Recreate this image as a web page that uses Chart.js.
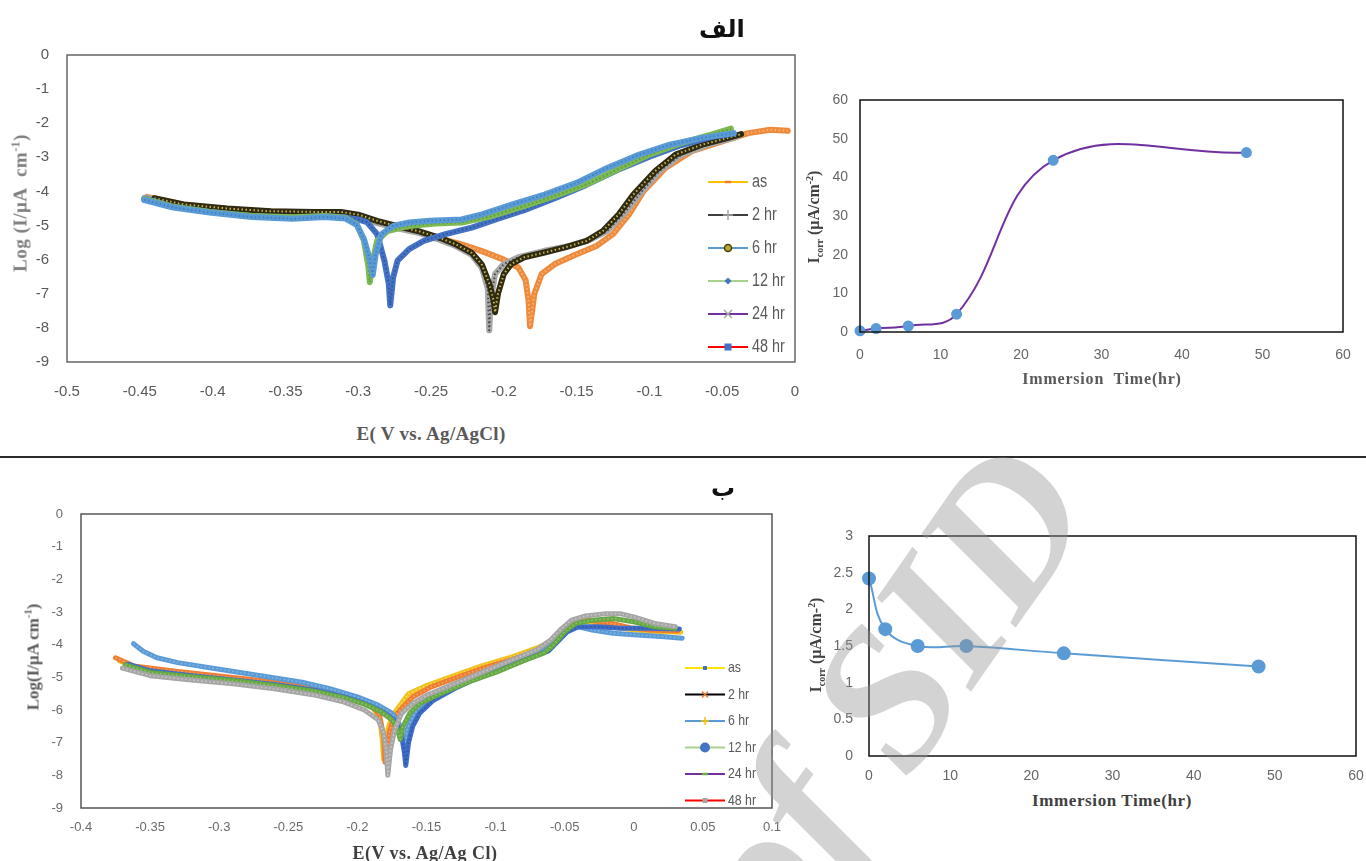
<!DOCTYPE html>
<html>
<head>
<meta charset="utf-8">
<script src="https://cdn.jsdelivr.net/npm/chart.js@4.4.1/dist/chart.umd.min.js"></script>
<style>
  html, body { margin: 0; padding: 0; background: #fff; }
  #page { position: relative; width: 1366px; height: 861px; overflow: hidden; }
  canvas { position: absolute; }
  .lbl { position: absolute; white-space: nowrap; font-family: 'Liberation Serif', 'DejaVu Serif', serif;
         font-weight: bold; transform: translate(-50%, -50%); line-height: 1; }
  .vt { transform: translate(-50%, -50%) rotate(-90deg); }
  .fa { position: absolute; font-family: 'DejaVu Sans', sans-serif; font-weight: bold; font-size: 24px; color: #111; line-height: 1; }
  sub, sup { font-size: 62%; line-height: 0; }
  #rule { position: absolute; left: 0; top: 456px; width: 1366px; height: 2px; background: #2b2b2b; }
  #mark { position: absolute; right: 240px; bottom: 334px; transform-origin: 100% 100%; transform: rotate(-55deg);
          font-family: 'Liberation Serif', serif; font-weight: bold; font-style: italic; font-size: 200px;
          line-height: 1; white-space: nowrap; color: rgba(150,150,150,0.42); pointer-events: none; }
</style>
</head>
<body>
<div id="page">
  <canvas id="c1" width="815" height="375" style="left:0;top:40px"></canvas>
  <canvas id="c2" width="571" height="310" style="left:795px;top:85px"></canvas>
  <canvas id="c3" width="790" height="345" style="left:0;top:500px"></canvas>
  <canvas id="c4" width="566" height="270" style="left:800px;top:520px"></canvas>

  <div class="fa" style="left:699px;top:17px">الف</div>
  <div class="fa" style="left:711px;top:476px">ب</div>
  <div id="rule"></div>

  <div class="lbl vt" style="left:20px;top:203px;font-size:19px;letter-spacing:0.5px;color:#7f7f7f">Log (I/μA&nbsp; cm<sup>-1</sup>)</div>
  <div class="lbl" style="left:431px;top:433px;font-size:19px;letter-spacing:0.3px;color:#595959">E( V vs. Ag/AgCl)</div>
  <div class="lbl vt" style="left:814px;top:217px;font-size:16px;color:#404040">I<sub>corr</sub> (μA/cm<sup>-2</sup>)</div>
  <div class="lbl" style="left:1102px;top:379px;font-size:16px;letter-spacing:0.8px;color:#595959">Immersion&nbsp; Time(hr)</div>

  <div class="lbl vt" style="left:33px;top:657px;font-size:17px;color:#595959">Log(I/μA cm<sup>-1</sup>)</div>
  <div class="lbl" style="left:425px;top:853px;font-size:18px;letter-spacing:0.5px;color:#404040">E(V vs. Ag/Ag Cl)</div>
  <div class="lbl vt" style="left:816px;top:645px;font-size:16px;color:#404040">I<sub>corr</sub> (μA/cm-<sup>2</sup>)</div>
  <div class="lbl" style="left:1112px;top:800px;font-size:17px;letter-spacing:0.6px;color:#404040">Immersion Time(hr)</div>

  <div id="mark">Archive of SID</div>
</div>

<script>
// ---- data ----
var seriesNames = ['as', '2 hr', '6 hr', '12 hr', '24 hr', '48 hr'];

// (a) polarization curves, [E (V), log I]
var topAs = [[-0.445,-4.16],[-0.42,-4.38],[-0.39,-4.52],[-0.36,-4.59],[-0.33,-4.62],[-0.312,-4.62],[-0.301,-4.72],
  [-0.287,-4.91],[-0.273,-5.06],[-0.258,-5.2],[-0.244,-5.38],[-0.229,-5.55],[-0.215,-5.75],[-0.2,-6.0],[-0.19,-6.23],
  [-0.185,-6.6],[-0.183,-7.2],[-0.182,-7.95],[-0.179,-7.0],[-0.174,-6.42],[-0.165,-6.13],[-0.15,-5.84],[-0.136,-5.59],
  [-0.125,-5.25],[-0.114,-4.67],[-0.104,-3.99],[-0.089,-3.31],[-0.071,-2.82],[-0.05,-2.53],[-0.032,-2.29],
  [-0.017,-2.19],[-0.005,-2.22]];
var top2hr = [[-0.445,-4.18],[-0.42,-4.4],[-0.39,-4.53],[-0.36,-4.6],[-0.33,-4.63],[-0.312,-4.64],[-0.301,-4.75],
  [-0.287,-4.93],[-0.273,-5.08],[-0.258,-5.22],[-0.244,-5.42],[-0.233,-5.6],[-0.222,-5.86],[-0.215,-6.25],
  [-0.211,-6.85],[-0.21,-8.07],[-0.209,-7.2],[-0.206,-6.42],[-0.2,-6.13],[-0.19,-5.93],[-0.172,-5.74],[-0.154,-5.59],
  [-0.14,-5.4],[-0.129,-5.16],[-0.118,-4.67],[-0.107,-4.09],[-0.093,-3.4],[-0.078,-2.92],[-0.06,-2.63],
  [-0.042,-2.43],[-0.037,-2.33]];
var top6hr = [[-0.44,-4.2],[-0.42,-4.38],[-0.39,-4.5],[-0.36,-4.58],[-0.33,-4.6],[-0.312,-4.6],[-0.3,-4.68],
  [-0.287,-4.86],[-0.273,-5.02],[-0.258,-5.17],[-0.244,-5.36],[-0.233,-5.55],[-0.222,-5.8],[-0.215,-6.15],
  [-0.21,-6.7],[-0.207,-7.2],[-0.206,-7.54],[-0.204,-7.0],[-0.2,-6.42],[-0.195,-6.13],[-0.186,-5.93],[-0.172,-5.79],
  [-0.158,-5.64],[-0.143,-5.45],[-0.132,-5.16],[-0.121,-4.67],[-0.111,-4.09],[-0.096,-3.4],[-0.082,-2.92],
  [-0.064,-2.63],[-0.046,-2.43],[-0.037,-2.32]];
var top12hr = [[-0.447,-4.2],[-0.427,-4.45],[-0.402,-4.6],[-0.373,-4.73],[-0.345,-4.78],[-0.323,-4.73],[-0.309,-4.76],
  [-0.3,-4.82],[-0.294,-4.9],[-0.287,-5.25],[-0.282,-6.03],[-0.279,-6.71],[-0.278,-7.34],[-0.276,-6.52],[-0.273,-6.03],
  [-0.265,-5.69],[-0.255,-5.45],[-0.24,-5.25],[-0.222,-5.06],[-0.204,-4.8],[-0.186,-4.55],[-0.165,-4.2],[-0.143,-3.8],
  [-0.122,-3.37],[-0.1,-2.98],[-0.078,-2.64],[-0.057,-2.4],[-0.042,-2.3]];
var top24hr = [[-0.447,-4.22],[-0.427,-4.45],[-0.402,-4.6],[-0.373,-4.72],[-0.345,-4.76],[-0.323,-4.72],[-0.309,-4.77],
  [-0.301,-4.96],[-0.296,-5.45],[-0.293,-6.2],[-0.292,-6.66],[-0.29,-6.03],[-0.287,-5.45],[-0.28,-5.16],[-0.265,-5.01],
  [-0.247,-4.94],[-0.229,-4.91],[-0.208,-4.72],[-0.186,-4.43],[-0.165,-4.13],[-0.143,-3.79],[-0.122,-3.36],[-0.1,-2.92],
  [-0.078,-2.58],[-0.057,-2.33],[-0.044,-2.16]];
var top48hr = [[-0.447,-4.25],[-0.427,-4.47],[-0.402,-4.62],[-0.373,-4.75],[-0.345,-4.8],[-0.323,-4.75],[-0.309,-4.79],
  [-0.301,-4.98],[-0.296,-5.4],[-0.292,-6.0],[-0.29,-6.45],[-0.288,-5.84],[-0.284,-5.25],[-0.276,-5.01],[-0.265,-4.91],
  [-0.251,-4.86],[-0.229,-4.82],[-0.215,-4.67],[-0.194,-4.38],[-0.172,-4.09],[-0.15,-3.75],[-0.129,-3.31],
  [-0.107,-2.92],[-0.086,-2.63],[-0.064,-2.43],[-0.042,-2.29]];

// (b) polarization curves
var botAs = [[-0.372,-4.5],[-0.36,-4.7],[-0.33,-4.85],[-0.3,-4.98],[-0.27,-5.12],[-0.24,-5.3],[-0.22,-5.48],[-0.2,-5.7],
  [-0.19,-5.88],[-0.184,-6.2],[-0.182,-6.9],[-0.181,-7.5],[-0.178,-6.6],[-0.175,-6.2],[-0.17,-5.9],[-0.163,-5.5],
  [-0.15,-5.25],[-0.13,-4.95],[-0.11,-4.65],[-0.09,-4.4],[-0.07,-4.1],[-0.06,-3.9],[-0.052,-3.6],[-0.045,-3.35],
  [-0.035,-3.28],[-0.02,-3.38],[-0.005,-3.52],[0.01,-3.58],[0.034,-3.62]];
var bot2hr = [[-0.375,-4.4],[-0.362,-4.65],[-0.33,-4.82],[-0.3,-4.96],[-0.27,-5.1],[-0.24,-5.28],[-0.22,-5.46],
  [-0.2,-5.68],[-0.19,-5.86],[-0.184,-6.15],[-0.181,-6.8],[-0.18,-7.6],[-0.177,-6.7],[-0.174,-6.25],[-0.168,-5.95],
  [-0.16,-5.6],[-0.147,-5.3],[-0.128,-5.0],[-0.108,-4.7],[-0.088,-4.45],[-0.068,-4.15],[-0.058,-3.9],[-0.05,-3.55],
  [-0.043,-3.32],[-0.033,-3.25],[-0.018,-3.33],[-0.003,-3.48],[0.012,-3.55],[0.032,-3.58]];
var bot6hr = [[-0.362,-3.97],[-0.355,-4.2],[-0.345,-4.4],[-0.33,-4.55],[-0.3,-4.75],[-0.27,-4.95],[-0.24,-5.15],
  [-0.22,-5.35],[-0.2,-5.6],[-0.185,-5.85],[-0.175,-6.1],[-0.17,-6.4],[-0.167,-6.9],[-0.166,-7.2],[-0.164,-6.6],
  [-0.16,-6.2],[-0.155,-5.9],[-0.145,-5.55],[-0.13,-5.25],[-0.11,-4.9],[-0.09,-4.6],[-0.07,-4.3],[-0.062,-4.1],
  [-0.055,-3.8],[-0.048,-3.5],[-0.04,-3.45],[-0.03,-3.55],[-0.015,-3.65],[0.0,-3.7],[0.02,-3.75],[0.035,-3.8]];
var bot12hr = [[-0.366,-4.6],[-0.35,-4.8],[-0.32,-4.95],[-0.29,-5.08],[-0.26,-5.22],[-0.23,-5.4],[-0.21,-5.6],
  [-0.195,-5.8],[-0.182,-6.05],[-0.172,-6.35],[-0.168,-6.8],[-0.166,-7.3],[-0.165,-7.7],[-0.163,-7.0],[-0.16,-6.5],
  [-0.155,-6.1],[-0.145,-5.7],[-0.13,-5.35],[-0.11,-4.95],[-0.09,-4.65],[-0.075,-4.4],[-0.062,-4.2],[-0.055,-3.9],
  [-0.048,-3.6],[-0.04,-3.45],[-0.025,-3.45],[-0.01,-3.5],[0.01,-3.5],[0.033,-3.52]];
var bot24hr = [[-0.368,-4.62],[-0.35,-4.85],[-0.32,-4.98],[-0.29,-5.1],[-0.26,-5.25],[-0.23,-5.43],[-0.21,-5.62],
  [-0.195,-5.82],[-0.183,-6.05],[-0.175,-6.3],[-0.171,-6.6],[-0.169,-6.9],[-0.167,-6.5],[-0.162,-6.1],[-0.155,-5.8],
  [-0.14,-5.5],[-0.12,-5.15],[-0.1,-4.85],[-0.08,-4.5],[-0.065,-4.25],[-0.058,-4.0],[-0.05,-3.6],[-0.042,-3.35],
  [-0.03,-3.25],[-0.015,-3.2],[0.0,-3.3],[0.015,-3.45],[0.03,-3.5]];
var bot48hr = [[-0.37,-4.72],[-0.35,-4.95],[-0.32,-5.08],[-0.29,-5.2],[-0.26,-5.35],[-0.23,-5.55],[-0.21,-5.75],
  [-0.195,-6.0],[-0.185,-6.3],[-0.181,-6.7],[-0.179,-7.3],[-0.178,-8.0],[-0.176,-7.2],[-0.173,-6.6],[-0.168,-6.1],
  [-0.16,-5.8],[-0.15,-5.55],[-0.13,-5.2],[-0.11,-4.85],[-0.09,-4.5],[-0.07,-4.15],[-0.06,-3.85],[-0.052,-3.5],
  [-0.045,-3.25],[-0.035,-3.12],[-0.02,-3.05],[-0.01,-3.05],[0.0,-3.15],[0.015,-3.35],[0.03,-3.45]];

// corrosion current vs immersion time
var immersionTime = [0, 2, 6, 12, 24, 48];
var topIcorr = [0.3, 0.9, 1.55, 4.6, 44.4, 46.4];
var botIcorr = [2.42, 1.73, 1.5, 1.5, 1.4, 1.22];

// tick labels
var topETicks = [-0.5, -0.45, -0.4, -0.35, -0.3, -0.25, -0.2, -0.15, -0.1, -0.05, 0];
var botETicks = [-0.4, -0.35, -0.3, -0.25, -0.2, -0.15, -0.1, -0.05, 0, 0.05, 0.1];
var logTicks = [0, -1, -2, -3, -4, -5, -6, -7, -8, -9];
var timeTicks = [0, 10, 20, 30, 40, 50, 60];
var topIcorrTicks = [0, 10, 20, 30, 40, 50, 60];
var botIcorrTicks = [0, 0.5, 1, 1.5, 2, 2.5, 3];

// ---- styles ----
var topLook = [
  {band: '#ee8a3c', bead: '#f6b27a', key: '#ffc000', mark: 'dash',    mc: '#ed7d31', ms: 3},
  {band: '#a8a8a8', bead: '#4a4a4a', key: '#404040', mark: 'cross',   mc: '#a5a5a5', ms: 5},
  {band: '#2f2a12', bead: '#c9b54e', key: '#5b9bd5', mark: 'circle',  mc: '#bfa83a', ms: 3.5, ring: '#4d4000'},
  {band: '#4472c4', bead: '#2f56a0', key: '#a9d18e', mark: 'diamond', mc: '#4472c4', ms: 3.5},
  {band: '#7dba55', bead: '#5e9e3a', key: '#7030a0', mark: 'x',       mc: '#a5a5a5', ms: 4},
  {band: '#5b9bd5', bead: '#3f82c4', key: '#ff0000', mark: 'square',  mc: '#4472c4', ms: 3.5}
];
var botLook = [
  {band: '#f2c21c', bead: '#ffe066', key: '#ffe600', mark: 'square',  mc: '#4472c4', ms: 2},
  {band: '#ed7d31', bead: '#f4a76f', key: '#000000', mark: 'x',       mc: '#ed7d31', ms: 3},
  {band: '#5b9bd5', bead: '#86b6e3', key: '#5b9bd5', mark: 'cross',   mc: '#ffc000', ms: 4},
  {band: '#3f6cc6', bead: '#2b55a8', key: '#a9d18e', mark: 'circle',  mc: '#4472c4', ms: 5},
  {band: '#66a844', bead: '#8cc46a', key: '#7030a0', mark: 'dash',    mc: '#70ad47', ms: 3},
  {band: '#a6a6a6', bead: '#c8c8c8', key: '#ff0000', mark: 'square',  mc: '#a5a5a5', ms: 2.5}
];

function drawMark(ctx, kind, color, x, y, r, ring) {
  ctx.save();
  ctx.fillStyle = color; ctx.strokeStyle = color; ctx.lineWidth = 1.5;
  ctx.beginPath();
  if (kind === 'circle') { ctx.arc(x, y, r, 0, Math.PI * 2); ctx.fill(); if (ring) { ctx.strokeStyle = ring; ctx.stroke(); } }
  else if (kind === 'square') { ctx.fillRect(x - r, y - r, 2 * r, 2 * r); }
  else if (kind === 'diamond') { ctx.moveTo(x, y - r); ctx.lineTo(x + r, y); ctx.lineTo(x, y + r); ctx.lineTo(x - r, y); ctx.closePath(); ctx.fill(); }
  else if (kind === 'cross') { ctx.moveTo(x - r, y); ctx.lineTo(x + r, y); ctx.moveTo(x, y - r); ctx.lineTo(x, y + r); ctx.stroke(); }
  else if (kind === 'x') { ctx.moveTo(x - r, y - r); ctx.lineTo(x + r, y + r); ctx.moveTo(x + r, y - r); ctx.lineTo(x - r, y + r); ctx.stroke(); }
  else { ctx.lineWidth = 2.5; ctx.moveTo(x - r, y); ctx.lineTo(x + r, y); ctx.stroke(); }
  ctx.restore();
}

// plot-area border
var frame = {
  id: 'frame',
  afterDraw: function(chart, args, o) {
    var c = chart.chartArea, ctx = chart.ctx;
    ctx.save();
    ctx.strokeStyle = o.color; ctx.lineWidth = o.width;
    ctx.strokeRect(c.left, c.top, c.right - c.left, c.bottom - c.top);
    ctx.restore();
  }
};

// dotted texture over the thick curves, using the points the scales placed
var beads = {
  id: 'beads',
  afterDatasetDraw: function(chart, args) {
    var ds = chart.data.datasets[args.index];
    if (!ds.beadColor) return;
    var ctx = chart.ctx, c = chart.chartArea, pts = args.meta.data;
    ctx.save();
    ctx.beginPath(); ctx.rect(c.left, c.top, c.right - c.left, c.bottom - c.top); ctx.clip();
    ctx.setLineDash([1.5, 2.5]);
    ctx.lineWidth = ds.beadWidth; ctx.strokeStyle = ds.beadColor; ctx.lineJoin = 'round';
    ctx.beginPath();
    pts.forEach(function(p, i) { if (i) ctx.lineTo(p.x, p.y); else ctx.moveTo(p.x, p.y); });
    ctx.stroke();
    ctx.restore();
  }
};

// series key inside the plot
var key = {
  id: 'key',
  afterDraw: function(chart, args, o) {
    if (!o.show) return;
    var ctx = chart.ctx;
    chart.data.datasets.forEach(function(ds, i) {
      var y = o.y + i * o.dy;
      ctx.save();
      ctx.strokeStyle = ds.keyLine; ctx.lineWidth = 2;
      ctx.beginPath(); ctx.moveTo(o.x, y); ctx.lineTo(o.x + o.len, y); ctx.stroke();
      ctx.restore();
      drawMark(ctx, ds.keyMark, ds.keyColor, o.x + o.len / 2, y, ds.keySize, ds.keyRing);
      ctx.save();
      ctx.translate(o.x + o.len + o.gap, y);
      ctx.scale(o.squeeze, 1);
      ctx.fillStyle = o.color; ctx.font = o.font; ctx.textBaseline = 'middle';
      ctx.fillText(ds.label, 0, 0);
      ctx.restore();
    });
  }
};

Chart.register(frame, beads, key);

function axis(tickList, size, pad, font, color, isX) {
  var sorted = tickList.slice().sort(function(a, b) { return a - b; });
  return {
    type: 'linear',
    min: sorted[0], max: sorted[sorted.length - 1],
    afterBuildTicks: function(a) { a.ticks = sorted.map(function(v) { return {value: v}; }); },
    afterFit: function(a) {
      // fixed axis thickness; the plot edges come from layout.padding only
      if (isX) { a.height = size; a.paddingLeft = 0; a.paddingRight = 0; }
      else { a.width = size; a.paddingTop = 0; a.paddingBottom = 0; }
    },
    grid: {display: false, drawTicks: false},
    border: {display: false},
    ticks: {padding: pad, color: color, font: font, autoSkip: false, maxRotation: 0,
            callback: function(v) { return String(v); }}
  };
}

var sans = '"Liberation Sans", sans-serif';

function tafel(id, curves, look, bandW, beadW, xTicks, yW, xH, pad, tickFont, tickColor, xPad, yPad, frameColor, keyOpt) {
  return new Chart(document.getElementById(id), {
    type: 'scatter',
    data: {
      datasets: curves.map(function(pts, i) {
        var L = look[i];
        return {
          label: seriesNames[i],
          data: pts.map(function(p) { return {x: p[0], y: p[1]}; }),
          showLine: true, tension: 0, pointRadius: 0,
          borderColor: L.band, borderWidth: bandW, borderJoinStyle: 'round', borderCapStyle: 'round',
          beadColor: L.bead, beadWidth: beadW,
          keyLine: L.key, keyMark: L.mark, keyColor: L.mc, keySize: L.ms, keyRing: L.ring,
          order: curves.length - i
        };
      })
    },
    options: {
      responsive: false, animation: false, events: [],
      layout: {padding: pad, autoPadding: false},
      scales: {
        x: axis(xTicks, xH, xPad, tickFont, tickColor, true),
        y: axis(logTicks, yW, yPad, tickFont, tickColor, false)
      },
      plugins: {legend: {display: false}, tooltip: {enabled: false},
                frame: {color: frameColor, width: 1.5}, key: keyOpt}
    }
  });
}

function icorr(id, values, yTicks, lineColor, ptR, yW, xH, pad, xPad, yPad) {
  return new Chart(document.getElementById(id), {
    type: 'scatter',
    data: {
      datasets: [{
        data: immersionTime.map(function(t, i) { return {x: t, y: values[i]}; }),
        showLine: true, tension: 0.4, clip: false,
        borderColor: lineColor, borderWidth: 2,
        pointRadius: ptR, pointBackgroundColor: '#5b9bd5', pointBorderColor: '#5b9bd5'
      }]
    },
    options: {
      responsive: false, animation: false, events: [],
      layout: {padding: pad, autoPadding: false},
      scales: {
        x: axis(timeTicks, xH, xPad, {family: sans, size: 14}, '#666', true),
        y: axis(yTicks, yW, yPad, {family: sans, size: 14}, '#666', false)
      },
      plugins: {legend: {display: false}, tooltip: {enabled: false},
                frame: {color: '#111', width: 1.5}, key: {show: false}}
    }
  });
}

tafel('c1', [topAs, top2hr, top6hr, top12hr, top24hr, top48hr], topLook, 6, 2,
  topETicks, 67, 53, {top: 15, right: 20, left: 0, bottom: 0},
  {family: sans, size: 15}, '#595959', 21, 18, '#666',
  {show: true, x: 708, y: 142, dy: 33, len: 40, gap: 4, squeeze: 0.8, color: '#595959', font: '18px ' + sans});

icorr('c2', topIcorr, topIcorrTicks, '#7030a0', 4.5, 65, 63, {top: 15, right: 23, left: 0, bottom: 0}, 15, 12);

tafel('c3', [botAs, bot2hr, bot6hr, bot12hr, bot24hr, bot48hr], botLook, 5, 1.6,
  botETicks, 81, 37, {top: 14, right: 18, left: 0, bottom: 0},
  {family: sans, size: 13}, '#6a6a6a', 12, 18, '#555',
  {show: true, x: 685, y: 168, dy: 26.5, len: 40, gap: 3, squeeze: 0.82, color: '#595959', font: '15px ' + sans});

icorr('c4', botIcorr, botIcorrTicks, '#5b9bd5', 6, 69, 34, {top: 16, right: 10, left: 0, bottom: 0}, 12, 16);
</script>
</body>
</html>
